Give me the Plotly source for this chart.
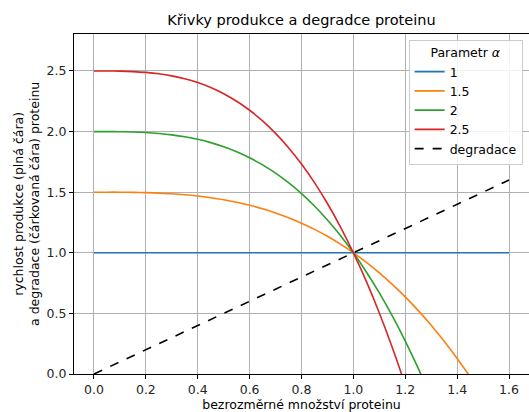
import plotly.graph_objects as go

# Values
x_prod = [0.0, 0.05, 0.1, 0.15, 0.2, 0.25, 0.3, 0.35, 0.4, 0.45, 0.5, 0.55, 0.6, 0.65, 0.7,
          0.75, 0.8, 0.85, 0.9, 0.95, 1.0, 1.05, 1.1, 1.15, 1.2, 1.25, 1.3, 1.35, 1.4, 1.45, 1.5]

y_a1_x = [0.0, 1.6]
y_a1 = [1.0, 1.0]

y_a15 = [1.5, 1.5, 1.5, 1.498, 1.496, 1.492, 1.487, 1.479, 1.468, 1.454, 1.438, 1.417, 1.392,
         1.363, 1.329, 1.289, 1.244, 1.193, 1.136, 1.071, 1.0, 0.921, 0.835, 0.740, 0.636,
         0.523, 0.402, 0.270, 0.128, -0.024, -0.188]

y_a2 = [2.0, 2.0, 1.999, 1.997, 1.992, 1.984, 1.973, 1.957, 1.936, 1.909, 1.875, 1.834, 1.784,
        1.725, 1.657, 1.578, 1.488, 1.386, 1.271, 1.143, 1.0, 0.842, 0.669, 0.479, 0.272,
        0.047, -0.197, -0.46]

y_a25 = [2.5, 2.5, 2.4985, 2.495, 2.488, 2.477, 2.4595, 2.436, 2.404, 2.363, 2.3125, 2.250,
         2.176, 2.088, 1.9855, 1.867, 1.732, 1.579, 1.4065, 1.214, 1.0, 0.764, 0.5035, 0.219,
         -0.092, -0.43]

deg_x = [0.0, 1.6]
deg_y = [0.0, 1.6]

labels = ["1", "1.5", "2", "2.5"]
colors = ["#1f77b4", "#ff7f0e", "#2ca02c", "#d62728"]

fig = go.Figure()
fig.add_trace(go.Scatter(x=y_a1_x, y=y_a1, mode="lines", name=labels[0],
                         line=dict(color=colors[0], width=1.6)))
fig.add_trace(go.Scatter(x=x_prod[:len(y_a15)], y=y_a15, mode="lines", name=labels[1],
                         line=dict(color=colors[1], width=1.6, shape="spline")))
fig.add_trace(go.Scatter(x=x_prod[:len(y_a2)], y=y_a2, mode="lines", name=labels[2],
                         line=dict(color=colors[2], width=1.6, shape="spline")))
fig.add_trace(go.Scatter(x=x_prod[:len(y_a25)], y=y_a25, mode="lines", name=labels[3],
                         line=dict(color=colors[3], width=1.6, shape="spline")))
fig.add_trace(go.Scatter(x=deg_x, y=deg_y, mode="lines", name="degradace",
                         line=dict(color="black", width=1.6, dash="dash")))

font_family = "DejaVu Sans"
fs = 12.5
fig.update_layout(
    width=529, height=412,
    margin=dict(l=74, r=0, t=34, b=38),
    paper_bgcolor="white", plot_bgcolor="white",
    font=dict(family=font_family, size=fs, color="#262626"),
    title=dict(text="Křivky produkce a degradce proteinu", xref="paper", x=0.5,
               xanchor="center", yref="container", y=1 - 20 / 412, yanchor="middle",
               font=dict(size=14.5, color="black", family=font_family)),
    showlegend=True,
    legend=dict(x=0.986, xanchor="right", y=0.983, yanchor="top",
                bgcolor="rgba(255,255,255,0.85)", bordercolor="#cccccc", borderwidth=1,
                title=dict(text="Parametr <i>α</i>", side="top center",
                           font=dict(size=fs, color="black")),
                font=dict(size=fs, color="black"),
                tracegroupgap=0, itemwidth=30),
    annotations=[dict(
        text="rychlost produkce (plná čára)<br>a degradace (čárkovaná čára) proteinu",
        xref="paper", yref="paper", x=(26 - 74) / 455, y=0.5,
        xanchor="center", yanchor="middle", textangle=-90, showarrow=False,
        font=dict(size=fs, color="black", family=font_family))],
)
fig.update_xaxes(
    range=[-0.077, 1.677], tickvals=[0, 0.2, 0.4, 0.6, 0.8, 1.0, 1.2, 1.4, 1.6],
    ticktext=["0.0", "0.2", "0.4", "0.6", "0.8", "1.0", "1.2", "1.4", "1.6"],
    showgrid=True, gridcolor="#b0b0b0", gridwidth=0.8,
    showline=True, linecolor="black", linewidth=1, mirror=True,
    ticks="outside", ticklen=4, tickcolor="black", zeroline=False,
    title=dict(text="bezrozměrné množství proteinu", standoff=2, font=dict(size=fs, color="black")),
    tickfont=dict(size=fs, color="#262626"),
)
fig.update_yaxes(
    range=[0, 2.805], tickvals=[0, 0.5, 1.0, 1.5, 2.0, 2.5],
    ticktext=["0.0", "0.5", "1.0", "1.5", "2.0", "2.5"],
    showgrid=True, gridcolor="#b0b0b0", gridwidth=0.8,
    showline=True, linecolor="black", linewidth=1, mirror=True,
    ticks="outside", ticklen=4, tickcolor="black", zeroline=False,
    tickfont=dict(size=fs, color="#262626"),
)

fig.write_html("out.html")
